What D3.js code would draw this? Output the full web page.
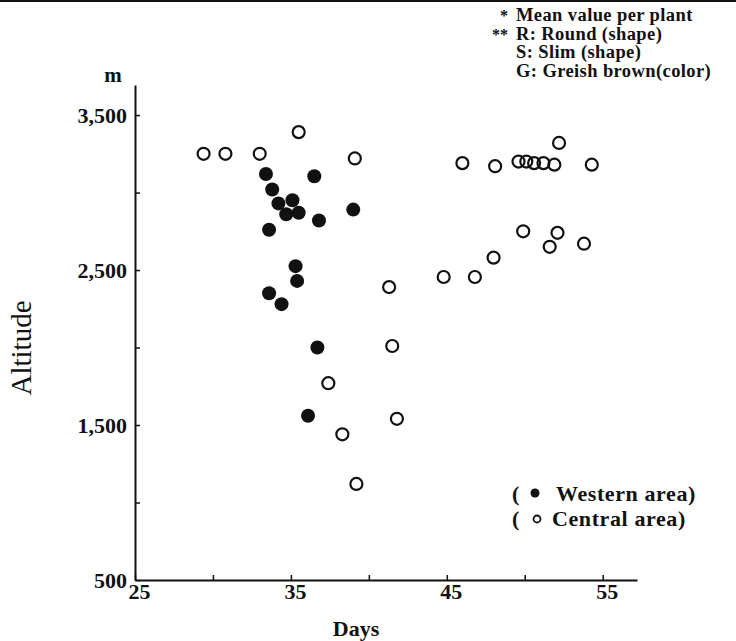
<!DOCTYPE html>
<html>
<head>
<meta charset="utf-8">
<script src="https://cdn.jsdelivr.net/npm/d3@7"></script>
<style>
  body { margin: 0; background: #fff; }
  svg text { font-family: "Liberation Serif", "DejaVu Serif", serif; fill: #111; }
</style>
</head>
<body>
<div id="chart"></div>
<script>
// western area (filled) - days, altitude (m)
var westDays = [33.4, 36.5, 33.8, 34.2, 35.1, 34.7, 35.5, 36.8, 39.0, 33.6, 35.3, 35.4, 33.6, 34.4, 36.7, 36.1];
var westAlt  = [3120, 3105, 3020, 2930, 2950, 2860, 2870, 2820, 2890, 2760, 2525, 2430, 2350, 2280, 2000, 1560];

// central area (open)
var centralDays = [29.4, 30.8, 33.0, 35.5, 39.1, 46.0, 48.1, 49.6, 50.1, 50.6, 51.2, 51.9, 52.2, 54.3,
                   49.9, 52.1, 51.6, 53.8, 48.0, 46.8, 44.8, 41.3, 41.5, 37.4, 41.8, 38.3, 39.2];
var centralAlt  = [3250, 3250, 3250, 3390, 3220, 3190, 3170, 3200, 3200, 3190, 3190, 3180, 3320, 3180,
                   2750, 2740, 2650, 2670, 2580, 2455, 2455, 2390, 2010, 1770, 1540, 1440, 1120];

var xTicks = [25, 30, 35, 40, 45, 50, 55];
var xLabels = [25, 35, 45, 55];
var yTicks = [500, 1000, 1500, 2000, 2500, 3000, 3500];
var yLabels = [500, 1500, 2500, 3500];

var notes = ["Mean value per plant", "R: Round (shape)", "S: Slim (shape)", "G: Greish brown(color)"];
var noteMarks = ["*", "**", "", ""];

var width = 736, height = 641;
var fmt = d3.format(",");

var svg = d3.select("#chart").append("svg")
    .attr("width", width)
    .attr("height", height);

// scan edge at the top
svg.append("rect").attr("x", 0).attr("y", 0).attr("width", width).attr("height", 2).attr("fill", "#111");

var x = d3.scaleLinear().domain([25, 57.2]).range([135, 637]);
var y = d3.scaleLinear().domain([500, 3694]).range([580, 85]);

// axes
var xAxis = d3.axisBottom(x)
    .tickValues(xTicks)
    .tickSize(-5)
    .tickSizeOuter(0)
    .tickPadding(3)
    .tickFormat(function (d) { return xLabels.indexOf(d) >= 0 ? d : ""; });

var yAxis = d3.axisLeft(y)
    .tickValues(yTicks)
    .tickSize(-5)
    .tickSizeOuter(0)
    .tickPadding(8)
    .tickFormat(function (d) { return yLabels.indexOf(d) >= 0 ? fmt(d) : ""; });

var gx = svg.append("g").attr("transform", "translate(0," + y(500) + ")").call(xAxis);
var gy = svg.append("g").attr("transform", "translate(" + x(25) + ",0)").call(yAxis);

[gx, gy].forEach(function (g) {
    g.select(".domain").attr("stroke", "#111").attr("stroke-width", 2);
    g.selectAll(".tick line").attr("stroke", "#111").attr("stroke-width", 1.5);
    g.selectAll(".tick text")
        .style("font-family", '"Liberation Serif", serif')
        .style("font-weight", "bold")
        .style("font-size", "22px")
        .attr("fill", "#111");
});
gx.selectAll(".tick text").attr("dx", 4);

// unit + axis titles
svg.append("text")
    .attr("x", 113).attr("y", 82)
    .attr("text-anchor", "middle")
    .style("font-weight", "bold").style("font-size", "21px")
    .text("m");

svg.append("text")
    .attr("transform", "translate(31,348) rotate(-90)")
    .attr("text-anchor", "middle")
    .style("font-size", "29px")
    .text("Altitude");

svg.append("text")
    .attr("x", 356).attr("y", 636)
    .attr("text-anchor", "middle")
    .style("font-weight", "bold").style("font-size", "22px")
    .text("Days");

// points
var central = centralDays.map(function (d, i) { return { day: d, alt: centralAlt[i] }; });
var west = westDays.map(function (d, i) { return { day: d, alt: westAlt[i] }; });

svg.append("g").selectAll("circle").data(central).enter().append("circle")
    .attr("cx", function (d) { return x(d.day); })
    .attr("cy", function (d) { return y(d.alt); })
    .attr("r", 6)
    .attr("fill", "none")
    .attr("stroke", "#111")
    .attr("stroke-width", 2.2);

svg.append("g").selectAll("circle").data(west).enter().append("circle")
    .attr("cx", function (d) { return x(d.day); })
    .attr("cy", function (d) { return y(d.alt); })
    .attr("r", 7)
    .attr("fill", "#111");

// notes, top right
var noteG = svg.append("g").attr("transform", "translate(516,0)");
noteG.selectAll("text.note").data(notes).enter().append("text")
    .attr("class", "note")
    .attr("x", 0)
    .attr("y", function (d, i) { return 21 + i * 18.7; })
    .style("font-weight", "bold").style("font-size", "18.5px")
    .style("letter-spacing", "0.4px")
    .text(function (d) { return d; });
noteG.selectAll("text.mark").data(noteMarks).enter().append("text")
    .attr("class", "mark")
    .attr("x", -8)
    .attr("y", function (d, i) { return 21 + i * 18.7; })
    .attr("text-anchor", "end")
    .style("font-weight", "bold").style("font-size", "16px")
    .text(function (d) { return d; });

// legend, bottom right
var legend = svg.append("g").attr("transform", "translate(512,0)")
    .style("font-weight", "bold").style("font-size", "22px").style("letter-spacing", "0.6px");
legend.append("text").attr("x", 0).attr("y", 501).text("(");
legend.append("circle").attr("cx", 23).attr("cy", 493).attr("r", 4.5).attr("fill", "#111");
legend.append("text").attr("x", 44).attr("y", 501).text("Western area)");
legend.append("text").attr("x", 0).attr("y", 526).text("(");
legend.append("circle").attr("cx", 25).attr("cy", 519).attr("r", 3.5)
    .attr("fill", "none").attr("stroke", "#111").attr("stroke-width", 1.8);
legend.append("text").attr("x", 40).attr("y", 526).text("Central area)");
</script>
</body>
</html>
